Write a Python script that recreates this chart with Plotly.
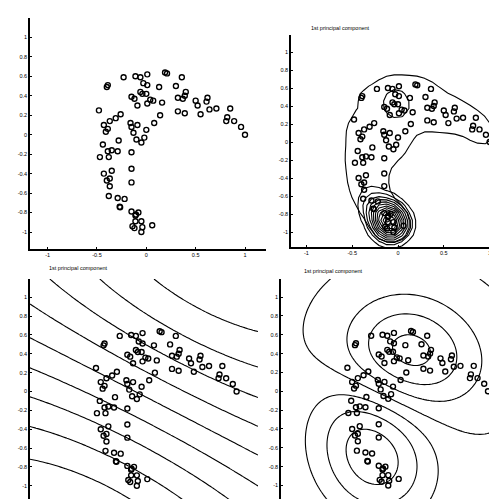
import numpy as np
import plotly.graph_objects as go

# ---------------- data ----------------
pts_x = [0.19, 0.21, 0.01, -0.11, -0.06, -0.23, 0.36, -0.39, -0.40, -0.03,
         0.01, 0.13, 0.30, -0.06, -0.04, 0.00, 0.40, 0.39, -0.15, -0.12,
         0.32, 0.37, 0.16, 0.04, 0.07, 0.01, -0.09, 0.50, 0.52, 0.62,
         0.61, 0.64, 0.71, 0.85, 0.32, 0.39, 0.55, 0.14, -0.48, -0.26,
         -0.31, -0.37, 0.82, 0.81, 0.89, 0.96, 1.00, -0.43, -0.39, -0.41,
         -0.16, -0.15, -0.09, -0.13, 0.08, 0.00, -0.10, -0.05, -0.02, -0.28,
         -0.44, -0.15, -0.39, -0.35, -0.29, -0.47, -0.38, -0.35, -0.43, -0.37,
         -0.40, -0.37, -0.15, -0.15, -0.38, -0.29, -0.22, -0.27, -0.15, -0.08,
         -0.11, -0.11, -0.05, -0.14, -0.12, -0.04, 0.06, -0.05, -0.265, -0.105]
pts_y = [0.64, 0.63, 0.62, 0.60, 0.59, 0.59, 0.59, 0.51, 0.49, 0.53,
         0.51, 0.49, 0.50, 0.44, 0.42, 0.42, 0.44, 0.40, 0.39, 0.37,
         0.38, 0.37, 0.33, 0.36, 0.35, 0.32, 0.30, 0.35, 0.30, 0.38,
         0.34, 0.26, 0.27, 0.27, 0.24, 0.22, 0.21, 0.20, 0.25, 0.21,
         0.17, 0.14, 0.18, 0.14, 0.14, 0.08, 0.00, 0.10, 0.06, 0.03,
         0.12, 0.08, 0.10, 0.02, 0.12, 0.05, -0.05, -0.08, -0.03, -0.06,
         -0.10, -0.18, -0.17, -0.16, -0.17, -0.23, -0.23, -0.37, -0.40, -0.45,
         -0.47, -0.53, -0.35, -0.49, -0.63, -0.65, -0.66, -0.74, -0.79, -0.80,
         -0.83, -0.89, -0.89, -0.94, -0.96, -0.95, -0.93, -1.00, -0.745, -0.82]

x_ticks = [-1, -0.5, 0, 0.5, 1]
x_tick_text = ['-1', '-0.5', '0', '0.5', '1']
y_ticks = [-1, -0.8, -0.6, -0.4, -0.2, 0, 0.2, 0.4, 0.6, 0.8, 1]
y_tick_text = ['-1', '-0.8', '-0.6', '-0.4', '-0.2', '0', '0.2', '0.4', '0.6', '0.8', '1']
axis_title = '1st principal component'

W, H = 497, 499
FONT = 'Liberation Sans'

# panel geometry in pixels: plot box, data origin pixel and pixels per unit
panels = {
    1: dict(px=(22, 258), py=(10, 241), ox=138.3, oy=126.7, ux=98.7, uy=97.3),
    2: dict(px=(283, 497), py=(27, 239), ox=390.0, oy=134.0, ux=91.6, uy=90.0),
    3: dict(px=(22, 250), py=(271, 496), ox=133.6, oy=383.5, ux=95.0, uy=94.2),
    4: dict(px=(273, 497), py=(271, 497), ox=385.0, oy=383.3, ux=95.0, uy=94.2),
}


def ranges(p):
    xr = [(p['px'][0] - p['ox']) / p['ux'], (p['px'][1] - p['ox']) / p['ux']]
    yr = [(p['oy'] - p['py'][1]) / p['uy'], (p['oy'] - p['py'][0]) / p['uy']]
    return xr, yr


X = np.column_stack([pts_x, pts_y])


def rbf(c):
    def k(A, B):
        d = ((A[:, None, :] - B[None, :, :]) ** 2).sum(-1)
        return np.exp(-d / c)
    return k


def kpca(kfun, X, target=None, top=1):
    K = kfun(X, X)
    n = len(X)
    J = np.eye(n) - 1.0 / n
    Kc = J @ K @ J
    w, V = np.linalg.eigh(Kc)
    colmean = K.mean(0)
    allmean = K.mean()

    def make(j):
        a = V[:, j] / np.sqrt(w[j])

        def f(T):
            Kt = kfun(T, X)
            Ktc = Kt - Kt.mean(1, keepdims=True) - colmean[None, :] + allmean
            return Ktc @ a
        return f

    if target is None:
        return make(n - 1)
    # among the leading components, take the one whose strongest bump sits at target
    best, bestd = None, 1e9
    g = np.linspace(-1.2, 1.2, 61)
    GX, GY = np.meshgrid(g, g)
    T = np.column_stack([GX.ravel(), GY.ravel()])
    far = np.array([[50.0, 50.0]])
    for j in range(n - 1, n - 1 - top, -1):
        f = make(j)
        d = f(T) - f(far)[0]
        k = np.argmax(np.abs(d))
        dist = np.hypot(T[k, 0] - target[0], T[k, 1] - target[1])
        if dist < bestd:
            best, bestd = f, dist
    return best


def field(f, xr, yr, n):
    gx = np.linspace(xr[0], xr[1], n)
    gy = np.linspace(yr[0], yr[1], n)
    GX, GY = np.meshgrid(gx, gy)
    Z = f(np.column_stack([GX.ravel(), GY.ravel()])).reshape(GX.shape)
    return gx, gy, Z


fig = go.Figure()


def contour(gx, gy, Z, start, end, size, i):
    fig.add_trace(go.Contour(
        x=gx, y=gy, z=Z, autocontour=False,
        contours=dict(start=start, end=end, size=size, coloring='lines', showlabels=False),
        colorscale=[[0, 'black'], [1, 'black']], showscale=False,
        line=dict(color='black', width=1.1, smoothing=0),
        hoverinfo='skip', xaxis=f'x{i}', yaxis=f'y{i}'))


# ---- panel 2: narrow Gaussian kernel ----
f2 = kpca(rbf(0.03), X, target=(-0.15, -0.85), top=6)
gx, gy, Z2 = field(f2, [-1.2, 1.2], [-1.2, 1.2], 30)
ffar = f2(np.array([[50.0, 50.0]]))[0]
D = Z2 - ffar
if D.max() < -D.min():
    D = -D
peak = D.max()
dip = -D.min()
s2 = peak / 13.0
contour(gx, gy, D, s2 * 1.5, peak, s2, 2)
contour(gx, gy, D, -0.65 * dip, -0.65 * dip + 1e-9, 1.0, 2)
# outline of the data cloud (Parzen window level set with the same kind of kernel)
dens = lambda T: rbf(0.03)(T, X).sum(1)
gx, gy, P2 = field(dens, [-1.2, 1.2], [-1.2, 1.2], 30)
contour(gx, gy, P2, 2.4, 2.4 + 1e-9, 1.0, 2)

# ---- panel 3: wide Gaussian kernel ----
xr3, yr3 = ranges(panels[3])
f3 = kpca(rbf(9.0), X)
gx, gy, Z3 = field(f3, xr3, yr3, 90)
anchors3 = np.array([[-1.17, 0.926], [-1.17, -0.72]])
va, vb = f3(anchors3)
s3 = abs(va - vb) / 5.0
contour(gx, gy, Z3, va - 30 * s3, va + 30 * s3, s3, 3)

# ---- panel 4: medium Gaussian kernel ----
xr4, yr4 = ranges(panels[4])
f4 = kpca(rbf(0.3), X)
gx, gy, Z4 = field(f4, xr4, yr4, 90)
anchors4 = np.array([[0.29, 0.80], [0.30, 1.01]])
va, vb = f4(anchors4)
s4 = abs(va - vb)
contour(gx, gy, Z4, va - 30 * s4, va + 30 * s4, s4, 4)

# ---- scatter points on all panels ----
for i in range(1, 5):
    fig.add_trace(go.Scatter(
        x=pts_x, y=pts_y, mode='markers',
        marker=dict(symbol='circle-open', size=5, color='black', line=dict(width=1.4, color='black')),
        hoverinfo='skip', showlegend=False, xaxis=f'x{i}', yaxis=f'y{i}'))

layout = dict(width=W, height=H, margin=dict(l=0, r=0, t=0, b=0),
              paper_bgcolor='white', plot_bgcolor='white', showlegend=False,
              font=dict(family=FONT, size=6, color='black'))
for i, p in panels.items():
    xr, yr = ranges(p)
    common = dict(showline=True, linecolor='black', linewidth=1.5, ticks='inside',
                  ticklen=2, tickwidth=1, tickcolor='black', showgrid=False,
                  zeroline=False, tickfont=dict(family=FONT, size=5.5, color='black'))
    layout[f'xaxis{i}'] = dict(domain=[p['px'][0] / W, p['px'][1] / W], range=xr,
                               anchor=f'y{i}', tickvals=x_ticks, ticktext=x_tick_text,
                               showticklabels=(i <= 2), **common)
    layout[f'yaxis{i}'] = dict(domain=[1 - p['py'][1] / H, 1 - p['py'][0] / H], range=yr,
                               anchor=f'x{i}', tickvals=y_ticks, ticktext=y_tick_text, **common)

ann = []
for (px, py) in [(39, 260), (301, 20), (294, 263)]:
    ann.append(dict(text=axis_title, x=px / W, y=1 - py / H, xref='paper', yref='paper',
                    xanchor='left', yanchor='middle', showarrow=False,
                    font=dict(family=FONT, size=5.5, color='black')))
layout['annotations'] = ann
fig.update_layout(**layout)
fig.write_html('out.html')
